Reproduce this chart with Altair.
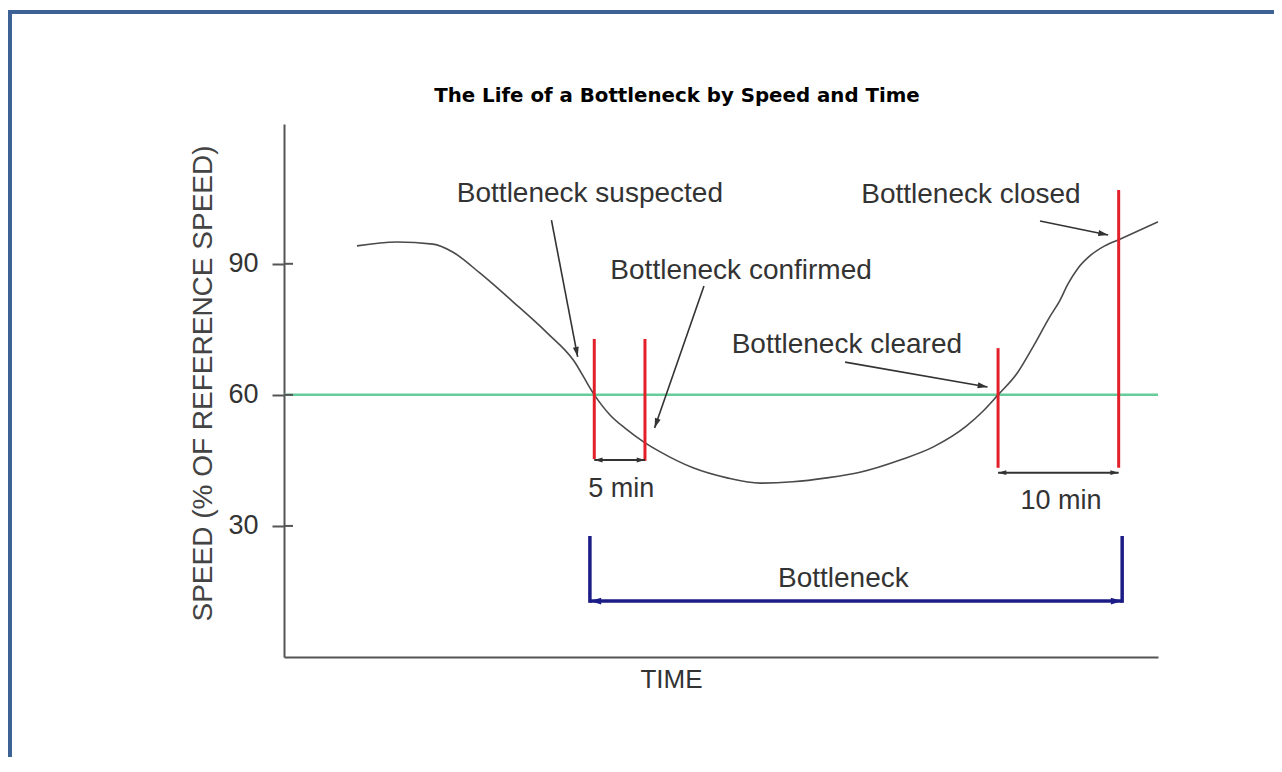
import math
import altair as alt
import pandas as pd

# ---------------- data ----------------
TITLE = "The Life of a Bottleneck by Speed and Time"
Y_TITLE = "SPEED (% OF REFERENCE SPEED)"
X_TITLE = "TIME"
Y_TICKS = [30, 60, 90]
THRESHOLD = 60

curve_time = [8.35, 12.9, 17.05, 19.3, 22.4, 26.2, 30.1, 33.1, 35.5, 37.3, 39.2,
              41.1, 43.0, 46.8, 50.7, 54.5, 58.2, 62.1, 65.9, 70.5, 74.3, 78.1, 80.0,
              81.7, 83.9, 85.7, 87.6, 88.8, 89.7, 90.85, 92.2, 93.9, 95.7, 100.0]
curve_speed = [94.1, 95.0, 94.5, 92.7, 87.9, 81.3, 74.2, 68.0, 60.0, 55.4, 52.1,
               49.3, 47.0, 43.3, 41.0, 39.8, 40.1, 41.0, 42.3, 45.1, 48.1, 52.9, 56.3,
               60.0, 65.0, 71.0, 77.8, 81.7, 85.4, 89.0, 91.8, 94.1, 95.7, 99.6]

marker_time = [35.5, 41.3, 81.7, 95.5]
marker_top = [72.8, 72.8, 70.7, 106.9]
marker_bottom = [45.3, 44.9, 43.3, 43.3]

label_text = ["Bottleneck suspected", "Bottleneck confirmed", "Bottleneck cleared", "Bottleneck closed"]
label_time = [35.0, 52.3, 64.4, 78.6]
label_speed = [106.0, 88.3, 71.4, 105.7]
arrow_from_time = [30.6, 48.05, 64.2, 86.5]
arrow_from_speed = [100.0, 84.9, 67.5, 99.8]
arrow_to_time = [33.6, 42.4, 80.5, 94.3]
arrow_to_speed = [68.7, 52.4, 61.8, 96.6]

span_text = ["5 min", "10 min"]
span_start = [35.5, 81.7]
span_end = [41.3, 95.5]
span_speed = [45.1, 42.2]
span_label_time = [38.6, 88.9]
span_label_speed = [38.5, 35.7]

bn_text = ["Bottleneck"]
bn_start = [35.0]
bn_end = [95.9]
bn_top = [27.7]
bn_bottom = [12.4]
bn_arrow = [12.8]
bn_label_time = [64.0]
bn_label_speed = [17.9]

# ---------------- layout / style ----------------
W, H = 874, 533
X_DOM = [0, 100]
Y_DOM = [0, 122]
KX = W / (X_DOM[1] - X_DOM[0])
KY = H / (Y_DOM[1] - Y_DOM[0])
PAD = {"left": 276, "top": 116, "right": 116, "bottom": 100}
FONT = "Liberation Sans"
TXT = "#333333"
RED = "#e3202a"
GREEN = "#66cc99"
NAVY = "#1c1c86"
CURVE = "#4a4a4a"
ARROW = "#333333"
FRAME = "#3d6396"
HEAD = "M0,0L0.42,1.4L-0.42,1.4Z"


def head_angle(dx, dy):
    return math.degrees(math.atan2(dx * KX, dy * KY)) % 360


xs = alt.Scale(domain=X_DOM, nice=False, zero=False)
ys = alt.Scale(domain=Y_DOM, nice=False, zero=False)

x_axis = alt.Axis(title=X_TITLE, labels=False, ticks=False, grid=False,
                  domainColor="#555555", domainWidth=2,
                  titleFont=FONT, titleFontSize=26, titleFontWeight="normal",
                  titleColor=TXT, titleX=387, titleY=22,
                  titleAlign="center", titleBaseline="middle")
y_axis = alt.Axis(title=Y_TITLE, values=Y_TICKS, grid=False,
                  domainColor="#555555", domainWidth=2,
                  tickColor="#555555", tickWidth=2, tickSize=12, labelPadding=14,
                  labelFont=FONT, labelFontSize=27, labelColor=TXT,
                  titleFont=FONT, titleFontSize=28, titleFontWeight="normal",
                  titleColor="#444444", titleX=-81, titleY=259, titleAngle=270,
                  titleAlign="center", titleBaseline="middle")


def X(f):
    return alt.X(f, type="quantitative", scale=xs, axis=x_axis)


def Y(f):
    return alt.Y(f, type="quantitative", scale=ys, axis=y_axis)


# ---------------- tables ----------------
curve_df = pd.DataFrame({"t": curve_time, "v": curve_speed})
marker_df = pd.DataFrame({"t": marker_time, "top": marker_top, "bot": marker_bottom})
ann_df = pd.DataFrame({"text": label_text, "t": label_time, "v": label_speed,
                       "t0": arrow_from_time, "v0": arrow_from_speed,
                       "t1": arrow_to_time, "v1": arrow_to_speed})
ann_df["angle"] = [head_angle(a1 - a0, b1 - b0) for a0, b0, a1, b1 in
                   zip(arrow_from_time, arrow_from_speed, arrow_to_time, arrow_to_speed)]
span_df = pd.DataFrame({"text": span_text, "t0": span_start, "t1": span_end, "v": span_speed,
                        "lt": span_label_time, "lv": span_label_speed})
span_heads = pd.DataFrame({
    "t": span_start + span_end,
    "v": span_speed + span_speed,
    "angle": [head_angle(-1, 0)] * len(span_start) + [head_angle(1, 0)] * len(span_end),
})
bn_df = pd.DataFrame({"text": bn_text, "t0": bn_start, "t1": bn_end, "top": bn_top,
                      "bot": bn_bottom, "v": bn_arrow, "lt": bn_label_time, "lv": bn_label_speed})
bn_vert = pd.DataFrame({"t": bn_start + bn_end, "top": bn_top * 2, "bot": bn_bottom * 2})
bn_heads = pd.DataFrame({"t": bn_start + bn_end, "v": bn_arrow * 2,
                         "angle": [head_angle(-1, 0), head_angle(1, 0)]})
tick_df = pd.DataFrame({"v": Y_TICKS})
thr_df = pd.DataFrame({"v": [THRESHOLD], "t0": [X_DOM[0]], "t1": [X_DOM[1]]})

# ---------------- layers ----------------
frame_top = alt.Chart(thr_df).mark_rule(color=FRAME, strokeWidth=4).encode(
    x=alt.value(-276), x2=alt.value(990), y=alt.value(-112))
frame_left = alt.Chart(thr_df).mark_rule(color=FRAME, strokeWidth=4).encode(
    x=alt.value(-274), y=alt.value(-114), y2=alt.value(633))

threshold = alt.Chart(thr_df).mark_rule(color=GREEN, strokeWidth=2.5).encode(
    x=X("t0"), x2="t1", y=Y("v"))

inner_ticks = alt.Chart(tick_df).mark_rule(color="#555555", strokeWidth=2).encode(
    x=alt.value(0), x2=alt.value(9), y=Y("v"))

curve = alt.Chart(curve_df).mark_line(color=CURVE, strokeWidth=1.6, interpolate="monotone").encode(
    x=X("t"), y=Y("v"))

markers = alt.Chart(marker_df).mark_rule(color=RED, strokeWidth=3).encode(
    x=X("t"), y=Y("top"), y2="bot")

ann_shaft = alt.Chart(ann_df).mark_rule(color=ARROW, strokeWidth=1.6).encode(
    x=X("t0"), y=Y("v0"), x2="t1", y2="v1")
ann_head = alt.Chart(ann_df).mark_point(shape=HEAD, filled=True, opacity=1, color=ARROW, size=200).encode(
    x=X("t1"), y=Y("v1"), angle=alt.Angle("angle:Q", scale=None))
ann_text = alt.Chart(ann_df).mark_text(font=FONT, fontSize=28, color=TXT, align="center",
                                       baseline="middle").encode(
    x=X("t"), y=Y("v"), text="text:N")

span_shaft = alt.Chart(span_df).mark_rule(color=ARROW, strokeWidth=2).encode(
    x=X("t0"), x2="t1", y=Y("v"))
span_head = alt.Chart(span_heads).mark_point(shape=HEAD, filled=True, opacity=1, color=ARROW, size=140).encode(
    x=X("t"), y=Y("v"), angle=alt.Angle("angle:Q", scale=None))
span_text_l = alt.Chart(span_df).mark_text(font=FONT, fontSize=27, color=TXT, align="center",
                                           baseline="middle").encode(
    x=X("lt"), y=Y("lv"), text="text:N")

bn_h = alt.Chart(bn_df).mark_rule(color=NAVY, strokeWidth=3.5).encode(
    x=X("t0"), x2="t1", y=Y("v"))
bn_v = alt.Chart(bn_vert).mark_rule(color=NAVY, strokeWidth=3.5).encode(
    x=X("t"), y=Y("top"), y2="bot")
bn_head = alt.Chart(bn_heads).mark_point(shape=HEAD, filled=True, opacity=1, color=NAVY, size=260).encode(
    x=X("t"), y=Y("v"), angle=alt.Angle("angle:Q", scale=None))
bn_label = alt.Chart(bn_df).mark_text(font=FONT, fontSize=28, color=TXT, align="center",
                                      baseline="middle").encode(
    x=X("lt"), y=Y("lv"), text="text:N")

chart = alt.layer(
    frame_top, frame_left, threshold, inner_ticks, curve, markers,
    ann_shaft, ann_head, ann_text, span_shaft, span_head, span_text_l,
    bn_h, bn_v, bn_head, bn_label,
).properties(
    width=W, height=H, autosize="none", padding=PAD, background="white",
    title=alt.TitleParams(TITLE, font="DejaVu Sans", fontSize=19.8, fontWeight="bold",
                          color="#000000", anchor="middle", frame="group",
                          baseline="bottom", offset=0, dx=-44, dy=118),
).configure_view(stroke=None)

chart.save("out.html", embed_options={"renderer": "svg", "actions": False})
